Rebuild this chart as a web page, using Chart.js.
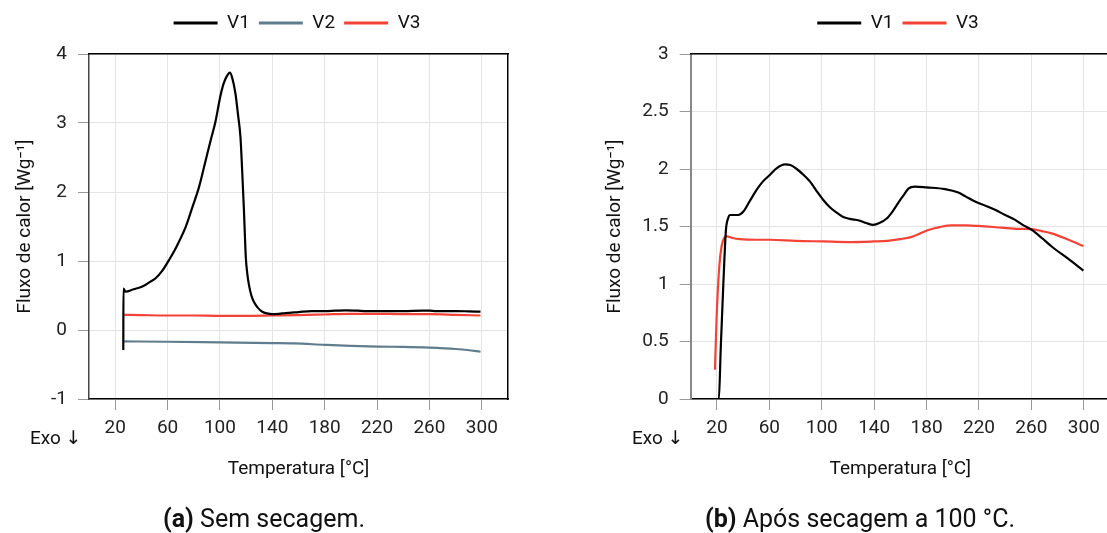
<!DOCTYPE html>
<html><head><meta charset="utf-8">
<script src="https://cdn.jsdelivr.net/npm/chart.js@4.4.1/dist/chart.umd.min.js"></script>
<style>
html,body{margin:0;padding:0;background:#fff;overflow:hidden;width:1107px;height:533px;position:relative;}
#ca{position:absolute;left:0;top:0;}
#cb{position:absolute;left:590px;top:0;}
.t{position:absolute;font-family:Roboto,"DejaVu Sans",sans-serif;color:#111;white-space:nowrap;line-height:1;}
.cap{transform:translateX(-50%);font-size:25px;}
</style></head><body>
<canvas id="ca" width="594" height="533"></canvas>
<canvas id="cb" width="616" height="533"></canvas>
<div class="t" style="left:30px;top:428px;font-size:19px">Exo ↓</div>
<div class="t" style="left:632px;top:428px;font-size:19px">Exo ↓</div>
<div class="t cap" style="left:264px;top:506px"><b>(a)</b> Sem secagem.</div>
<div class="t cap" style="left:860px;top:506px"><b>(b)</b> Após secagem a 100 °C.</div>
<script>
// ---- tick labels ----
const xTickValues = [20, 60, 100, 140, 180, 220, 260, 300];

// ---- (a) Sem secagem ----
const aV1Temp = [26.2, 26.3, 28, 34, 40.7, 46, 50.9, 56, 61, 65, 68.7, 73.8, 78.8, 84, 89, 92.8, 96.7, 100, 102, 104, 106, 107.6, 109.3, 111.9, 113.8, 115.7, 117, 118.3, 119, 119.8, 121, 122.2, 124, 125.9, 129, 132.3, 136, 139.9, 145, 150, 160, 170, 180, 188, 196, 205, 212, 220, 240, 255, 260, 265, 280, 290, 299];
const aV1Val  = [-0.29, 0.60, 0.555, 0.59, 0.63, 0.69, 0.75, 0.86, 1.01, 1.14, 1.28, 1.49, 1.77, 2.07, 2.45, 2.74, 3.03, 3.36, 3.52, 3.63, 3.70, 3.73, 3.66, 3.42, 3.12, 2.79, 2.30, 1.75, 1.40, 1.04, 0.80, 0.65, 0.50, 0.41, 0.32, 0.265, 0.24, 0.23, 0.235, 0.245, 0.26, 0.275, 0.275, 0.28, 0.285, 0.28, 0.275, 0.275, 0.275, 0.28, 0.28, 0.275, 0.275, 0.27, 0.265];
const aV2Temp = [26.2, 60, 100, 140, 157, 180, 200, 220.7, 240, 260, 271.6, 280, 289, 299];
const aV2Val  = [-0.165, -0.17, -0.18, -0.19, -0.195, -0.215, -0.23, -0.24, -0.245, -0.255, -0.265, -0.275, -0.29, -0.315];
const aV3Temp = [26.2, 40, 60, 80, 100, 120, 140, 160, 180, 200, 220, 240, 260, 280, 299];
const aV3Val  = [0.22, 0.215, 0.21, 0.21, 0.205, 0.205, 0.21, 0.215, 0.225, 0.235, 0.235, 0.23, 0.23, 0.22, 0.21];

// ---- (b) Após secagem a 100 °C ----
const bV1Temp = [19.3, 21.5, 22.9, 24.9, 26.9, 28.5, 30, 33, 36.3, 40.2, 45, 50.4, 55, 60.5, 66, 72, 76, 80.9, 86, 91.1, 96, 101.2, 106, 111.4, 116, 121.6, 125, 129.2, 134, 139.4, 144, 149.6, 154, 159.8, 163, 166.1, 171.2, 180, 194.1, 204.3, 210, 217, 225, 232.3, 240, 247.6, 254, 260.3, 268, 275.5, 288, 299.7];
const bV1Val  = [0, 0, 0.43, 1.0, 1.47, 1.57, 1.6, 1.6, 1.6, 1.63, 1.72, 1.82, 1.89, 1.95, 2.01, 2.04, 2.035, 2.0, 1.95, 1.89, 1.81, 1.73, 1.67, 1.62, 1.585, 1.566, 1.56, 1.55, 1.53, 1.514, 1.53, 1.57, 1.63, 1.73, 1.78, 1.83, 1.847, 1.84, 1.825, 1.795, 1.76, 1.717, 1.68, 1.645, 1.6, 1.558, 1.51, 1.47, 1.4, 1.326, 1.22, 1.117];
const bV3Temp = [18.5, 19.8, 21.8, 23.6, 25.5, 27.4, 32, 37.6, 50, 60.5, 80, 101.2, 120, 139.4, 150, 159.8, 168.7, 181.4, 190, 199.2, 210, 219.6, 237.4, 250, 260.3, 268, 275.5, 288.3, 299.7];
const bV3Val  = [0.255, 0.72, 1.15, 1.33, 1.40, 1.415, 1.40, 1.39, 1.385, 1.385, 1.375, 1.37, 1.365, 1.37, 1.375, 1.39, 1.41, 1.47, 1.495, 1.51, 1.51, 1.505, 1.49, 1.48, 1.477, 1.46, 1.44, 1.385, 1.33];

const COLORS = {V1: '#000000', V2: '#5f7d8c', V3: '#f44336'};
const FAMILY = 'Roboto, "DejaVu Sans", sans-serif';
const pts = (t, v) => t.map((x, i) => ({x: x, y: v[i]}));

function series(label, t, v) {
  return {label, data: pts(t, v), borderColor: COLORS[label], backgroundColor: COLORS[label],
    borderWidth: 2.2, pointRadius: 0, fill: false, cubicInterpolationMode: 'monotone',
    xAxisID: 'x', yAxisID: 'y'};
}

function makeChart(id, datasets, ymin, ymax, ystep, yWidth, rightWidth, yBorder) {
  const font = {family: FAMILY, size: 19};
  return new Chart(document.getElementById(id), {
    type: 'line',
    data: {datasets},
    options: {
      responsive: false, animation: false, devicePixelRatio: 1,
      layout: {padding: {top: 4.5, left: 0, right: 0, bottom: 49}},
      plugins: {
        tooltip: {enabled: false},
        legend: {
          position: 'top',
          labels: {
            font, color: '#111', boxWidth: 44, boxHeight: 3, padding: 9,
            generateLabels(chart) {
              const items = Chart.defaults.plugins.legend.labels.generateLabels(chart);
              items.forEach(it => { it.lineWidth = 0; });
              return items;
            }
          }
        }
      },
      scales: {
        x: {
          type: 'linear', position: 'bottom', min: 0, max: 320,
          afterBuildTicks: s => { s.ticks = xTickValues.map(v => ({value: v})); },
          afterFit: s => { s.height = 85; },
          grid: {color: '#e4e4e4', lineWidth: 1, tickLength: 11, tickColor: '#999'},
          border: {color: '#000', width: 1.5},
          ticks: {font, color: '#222', padding: 7, maxRotation: 0, autoSkip: false},
          title: {display: true, text: 'Temperatura [°C]', font, color: '#111', padding: {top: 0, bottom: 3.6}}
        },
        y: {
          type: 'linear', position: 'left', min: ymin, max: ymax,
          afterFit: s => { s.width = yWidth; },
          grid: {color: '#e4e4e4', lineWidth: 1, tickLength: 11, tickColor: '#999'},
          border: {color: yBorder.color, width: yBorder.width},
          ticks: {font, color: '#222', padding: 11, stepSize: ystep, callback: v => String(Math.round(v * 10) / 10)},
          title: {display: true, text: 'Fluxo de calor [Wg⁻¹]', font, color: '#111', padding: {top: 13.6, bottom: 0}}
        },
        xTop: {
          type: 'linear', position: 'top', min: 0, max: 320,
          afterFit: s => { s.height = 11.5; },
          ticks: {display: false}, grid: {display: false},
          border: {display: true, color: '#000', width: 1.5}
        },
        yRight: {
          type: 'linear', position: 'right', min: ymin, max: ymax,
          afterFit: s => { s.width = rightWidth; },
          ticks: {display: false}, grid: {display: false},
          border: {display: true, color: '#000', width: 1.5}
        }
      }
    }
  });
}

makeChart('ca', [
  series('V1', aV1Temp, aV1Val),
  series('V2', aV2Temp, aV2Val),
  series('V3', aV3Temp, aV3Val)
], -1, 4, 1, 89, 86, {color: '#444', width: 1.5});

makeChart('cb', [
  series('V1', bV1Temp, bV1Val),
  series('V3', bV3Temp, bV3Val)
], 0, 3, 0.5, 100.7, 96, {color: '#888', width: 2});
</script>
</body></html>
